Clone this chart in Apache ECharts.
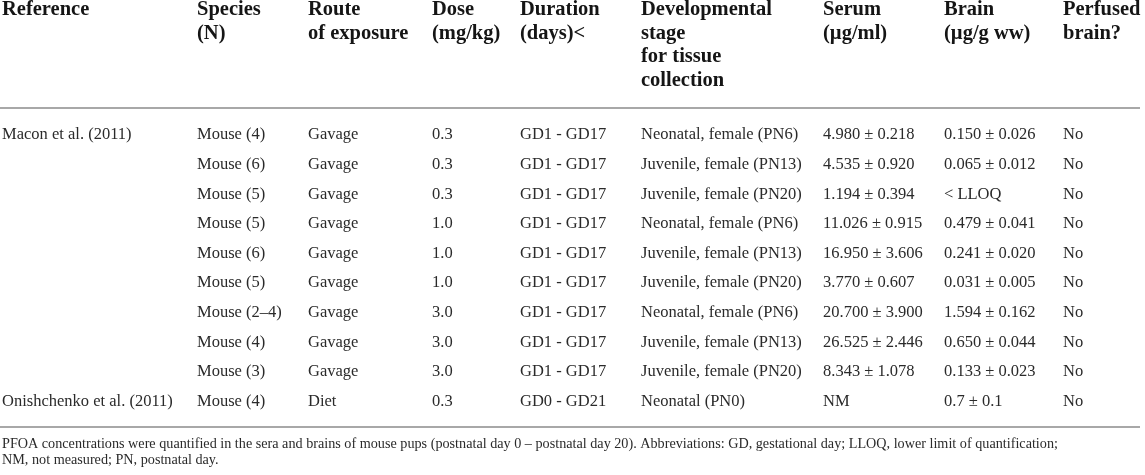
<!DOCTYPE html>
<html lang="en">

<head>
    <meta charset="UTF-8">
    <title>PFOA serum and brain concentrations</title>
</head>
<style>
    html, body {
        margin: 0;
        padding: 0;
        background-color: #ffffff;
    }

    #main {
        width: 1145px;
        height: 475px;
    }
</style>
<script src="https://cdn.jsdelivr.net/npm/echarts@6.0.0/dist/echarts.min.js"></script>

<body>
    <div id="main"></div>

    <script>
        // table content
        let headers = [
            ['Reference'],
            ['Species', '(N)'],
            ['Route', 'of exposure'],
            ['Dose', '(mg/kg)'],
            ['Duration', '(days)<'],
            ['Developmental', 'stage', 'for tissue', 'collection'],
            ['Serum', '(µg/ml)'],
            ['Brain', '(µg/g ww)'],
            ['Perfused', 'brain?']
        ];
        let references = ['Macon et al. (2011)', '', '', '', '', '', '', '', '', 'Onishchenko et al. (2011)'];
        let species = ['Mouse (4)', 'Mouse (6)', 'Mouse (5)', 'Mouse (5)', 'Mouse (6)', 'Mouse (5)', 'Mouse (2–4)', 'Mouse (4)', 'Mouse (3)', 'Mouse (4)'];
        let routes = ['Gavage', 'Gavage', 'Gavage', 'Gavage', 'Gavage', 'Gavage', 'Gavage', 'Gavage', 'Gavage', 'Diet'];
        let doses = ['0.3', '0.3', '0.3', '1.0', '1.0', '1.0', '3.0', '3.0', '3.0', '0.3'];
        let durations = ['GD1 - GD17', 'GD1 - GD17', 'GD1 - GD17', 'GD1 - GD17', 'GD1 - GD17', 'GD1 - GD17', 'GD1 - GD17', 'GD1 - GD17', 'GD1 - GD17', 'GD0 - GD21'];
        let stages = ['Neonatal, female (PN6)', 'Juvenile, female (PN13)', 'Juvenile, female (PN20)', 'Neonatal, female (PN6)', 'Juvenile, female (PN13)', 'Juvenile, female (PN20)', 'Neonatal, female (PN6)', 'Juvenile, female (PN13)', 'Juvenile, female (PN20)', 'Neonatal (PN0)'];
        let serum = ['4.980 ± 0.218', '4.535 ± 0.920', '1.194 ± 0.394', '11.026 ± 0.915', '16.950 ± 3.606', '3.770 ± 0.607', '20.700 ± 3.900', '26.525 ± 2.446', '8.343 ± 1.078', 'NM'];
        let brain = ['0.150 ± 0.026', '0.065 ± 0.012', '< LLOQ', '0.479 ± 0.041', '0.241 ± 0.020', '0.031 ± 0.005', '1.594 ± 0.162', '0.650 ± 0.044', '0.133 ± 0.023', '0.7 ± 0.1'];
        let perfused = ['No', 'No', 'No', 'No', 'No', 'No', 'No', 'No', 'No', 'No'];
        let footnote = [
            'PFOA concentrations were quantified in the sera and brains of mouse pups (postnatal day 0 – postnatal day 20). Abbreviations: GD, gestational day; LLOQ, lower limit of quantification;',
            'NM, not measured; PN, postnatal day.'
        ];

        // layout (pixel units on the hidden axes)
        let colX = [2, 197, 308, 432, 520, 641, 823, 944, 1063];
        let headerTop = 10, headerStep = 23.5;
        let rowTop = 135, rowStep = 29.6;
        let ruleTop = 108, ruleBottom = 427, ruleEnd = 1140;
        let noteTop = 444, noteStep = 16.5;

        let columns = [references, species, routes, doses, durations, stages, serum, brain, perfused];

        // cells: [x, y, text, kind]
        let cells = [];
        headers.forEach((lines, c) => {
            lines.forEach((t, i) => cells.push([colX[c], headerTop + i * headerStep, t, 'head']));
        });
        columns.forEach((col, c) => {
            col.forEach((t, r) => {
                if (t) cells.push([colX[c], rowTop + r * rowStep, t, 'body']);
            });
        });
        footnote.forEach((t, i) => cells.push([colX[0], noteTop + i * noteStep, t, 'note']));

        let styles = {
            head: { fontSize: 20.5, fontWeight: 'bold', fill: '#151515' },
            body: { fontSize: 16.5, fontWeight: 'normal', fill: '#2a2a2a' },
            note: { fontSize: 14.2, fontWeight: 'normal', fill: '#2a2a2a' }
        };

        let myChart = echarts.init(document.getElementById('main'));

        option = {
            animation: false,
            grid: { left: 0, right: 0, top: 0, bottom: 0 },
            xAxis: { type: 'value', min: 0, max: 1145, show: false },
            yAxis: { type: 'value', min: 0, max: 475, inverse: true, show: false },
            series: [
                {
                    type: 'custom',
                    data: [[0, ruleEnd, ruleTop], [0, ruleEnd, ruleBottom]],
                    renderItem: (params, api) => {
                        let a = api.coord([api.value(0), api.value(2)]);
                        let b = api.coord([api.value(1), api.value(2)]);
                        return {
                            type: 'line',
                            shape: { x1: a[0], y1: a[1], x2: b[0], y2: b[1] },
                            style: { stroke: '#a8a8a8', lineWidth: 2 }
                        };
                    }
                },
                {
                    type: 'custom',
                    data: cells,
                    renderItem: (params, api) => {
                        let cell = cells[params.dataIndex];
                        let p = api.coord([cell[0], cell[1]]);
                        let s = styles[cell[3]];
                        return {
                            type: 'text',
                            x: p[0],
                            y: p[1],
                            style: {
                                text: cell[2],
                                fontFamily: 'Liberation Serif',
                                fontSize: s.fontSize,
                                fontWeight: s.fontWeight,
                                fill: s.fill,
                                align: 'left',
                                verticalAlign: 'middle'
                            }
                        };
                    }
                }
            ]
        };

        myChart.setOption(option);
    </script>

</body>

</html>
